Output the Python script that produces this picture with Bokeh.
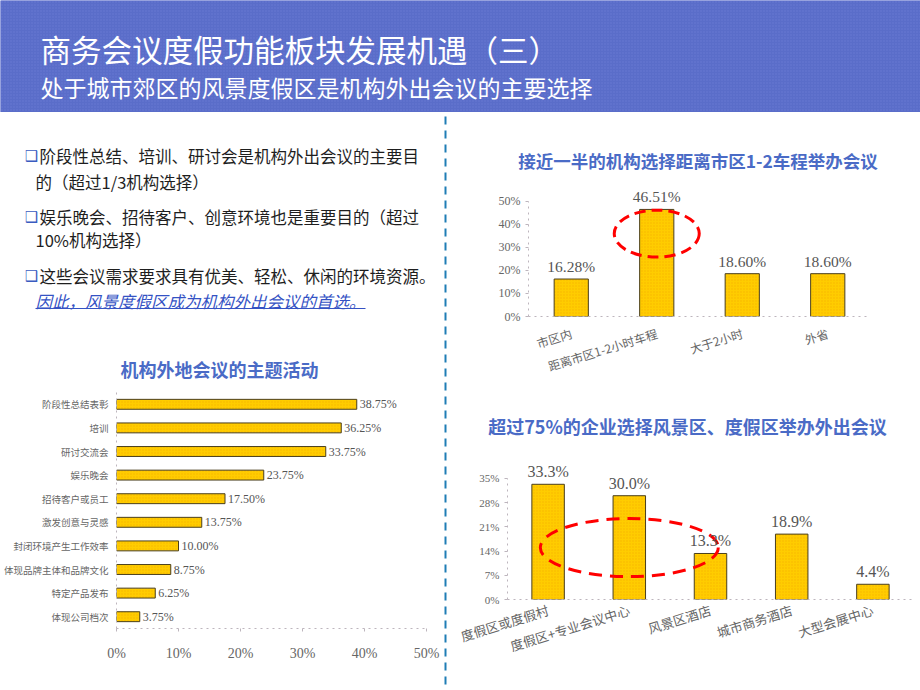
from bokeh.plotting import figure
from bokeh.layouts import column, row
from bokeh.models import ColumnDataSource, Range1d, FactorRange, LabelSet, FixedTicker
from bokeh.core.properties import value
from bokeh.embed import file_html
from bokeh.resources import INLINE

# ---------------- data ----------------
title_main = "商务会议度假功能板块发展机遇（三）"
title_sub = "处于城市郊区的风景度假区是机构外出会议的主要选择"

body_lines = [
    "阶段性总结、培训、研讨会是机构外出会议的主要目",
    "的（超过1/3机构选择）",
    "娱乐晚会、招待客户、创意环境也是重要目的（超过",
    "10%机构选择）",
    "这些会议需求要求具有优美、轻松、休闲的环境资源。",
]
body_conclusion = "因此，风景度假区成为机构外出会议的首选。"

activity_title = "机构外地会议的主题活动"
activity_names = ["阶段性总结表彰", "培训", "研讨交流会", "娱乐晚会", "招待客户或员工",
                  "激发创意与灵感", "封闭环境产生工作效率", "体现品牌主体和品牌文化",
                  "特定产品发布", "体现公司档次"]
activity_pct = [38.75, 36.25, 33.75, 23.75, 17.50, 13.75, 10.00, 8.75, 6.25, 3.75]
activity_ticks = [0, 10, 20, 30, 40, 50]

distance_title = "接近一半的机构选择距离市区1-2车程举办会议"
distance_names = ["市区内", "距离市区1-2小时车程", "大于2小时", "外省"]
distance_pct = [16.28, 46.51, 18.60, 18.60]
distance_ticks = [0, 10, 20, 30, 40, 50]

venue_title = "超过75%的企业选择风景区、度假区举办外出会议"
venue_names = ["度假区或度假村", "度假区+专业会议中心", "风景区酒店", "城市商务酒店", "大型会展中心"]
venue_pct = [33.3, 30.0, 13.3, 18.9, 4.4]
venue_ticks = [0, 7, 14, 21, 28, 35]

# ---------------- style ----------------
CJK = "Noto Sans CJK SC"
NUM = "Liberation Serif"
HDR_BLUE = "#5A6DC9"
TITLE_BLUE = "#4A6BC6"
GOLD = "#FFCC00"
GOLD_DOT = "#F2A600"
BAR_EDGE = "#4A3F1E"
AXIS_GRAY = "#BDB5BD"
LABEL_GRAY = "#666666"
VALUE_GRAY = "#555555"
DIVIDER = "#1F7DB5"

BAR_STYLE = dict(fill_color=GOLD, line_color=BAR_EDGE, line_width=1,
                 hatch_pattern="dot", hatch_color=GOLD_DOT, hatch_scale=3,
                 hatch_alpha=0.6, hatch_weight=1)


def blank(w, h, bg="white"):
    p = figure(width=w, height=h, x_range=Range1d(0, w), y_range=Range1d(h, 0),
               toolbar_location=None, output_backend="svg", min_border=0,
               x_axis_location=None, y_axis_location=None, frame_align=False)
    p.grid.visible = False
    p.outline_line_color = None
    p.background_fill_color = bg
    p.border_fill_color = bg
    return p


def style_chart(p):
    p.grid.visible = False
    p.outline_line_color = None
    for ax in p.axis:
        ax.axis_line_color = AXIS_GRAY
        ax.axis_line_dash = "dotted"
        ax.axis_line_width = 1
        ax.major_tick_line_color = AXIS_GRAY
        ax.minor_tick_line_color = None
        ax.major_label_text_color = LABEL_GRAY


# ---------------- header ----------------
hdr = blank(920, 112, HDR_BLUE)
hdr.quad(left=[0], right=[920], top=[0], bottom=[112], fill_color=HDR_BLUE, line_color=None,
         hatch_pattern="dot", hatch_color="#7484DA", hatch_scale=3, hatch_alpha=0.55, hatch_weight=1)
hdr.text(x=[40], y=[48], text=[title_main], text_font=value(CJK), text_font_size="30.5px",
         text_color="white", text_baseline="middle")
hdr.text(x=[40], y=[86], text=[title_sub], text_font=value(CJK), text_font_size="23px",
         text_color="white", text_baseline="middle")

# ---------------- left text block ----------------
txt = blank(442, 273)
line_y = [43, 69, 104, 127, 163]
line_x = [39, 35, 39, 35, 39]
bullet_rows = [0, 2, 4]
txt.text(x=[31] * len(bullet_rows), y=[line_y[i] for i in bullet_rows], text=["❑"] * len(bullet_rows),
         text_font=value("DejaVu Sans"), text_font_size="15px", text_color="#3A5BC0",
         text_align="center", text_baseline="middle")
txt.text(x=line_x, y=line_y, text=body_lines, text_font=value(CJK), text_font_size="16.5px",
         text_color="#1E1E1E", text_baseline="middle")
txt.text(x=[35], y=[188], text=[body_conclusion], text_font=value(CJK), text_font_size="16.5px",
         text_color="#3452C4", text_font_style="italic", text_baseline="middle")
txt.segment(x0=[35], y0=[196], x1=[35 + 16.5 * len(body_conclusion)], y1=[196],
            line_color="#3452C4", line_width=1)
txt.text(x=[219], y=[256], text=[activity_title], text_font=value(CJK), text_font_size="18px",
         text_color=TITLE_BLUE, text_font_style="bold", text_align="center", text_baseline="middle")

# ---------------- left bar chart ----------------
src_a = ColumnDataSource(dict(name=activity_names, pct=activity_pct,
                              lbl=[f"{v:.2f}%" for v in activity_pct]))
pa = figure(width=442, height=305, y_range=FactorRange(*activity_names[::-1]), x_range=Range1d(0, 50),
            toolbar_location=None, output_backend="svg", frame_align=False,
            min_border_left=115, min_border_right=16, min_border_top=7, min_border_bottom=62)
pa.hbar(y="name", left=0, right="pct", height=0.42, source=src_a, **BAR_STYLE)
pa.add_layout(LabelSet(x="pct", y="name", text="lbl", source=src_a, x_offset=3,
                       text_baseline="middle", text_font=value(NUM), text_font_size="12px",
                       text_color=VALUE_GRAY))
style_chart(pa)
pa.xaxis.ticker = FixedTicker(ticks=activity_ticks, minor_ticks=[])
pa.xaxis.major_label_overrides = {t: f"{t}%" for t in activity_ticks}
pa.xaxis.major_tick_in = 0
pa.xaxis.major_tick_out = 3
pa.xaxis.major_label_standoff = 14
pa.xaxis.major_label_text_font = NUM
pa.xaxis.major_label_text_font_size = "14px"
pa.yaxis.major_tick_line_color = None
pa.yaxis.major_tick_out = 0
pa.yaxis.major_tick_in = 0
pa.yaxis.major_label_standoff = 8
pa.yaxis.major_label_text_font = CJK
pa.yaxis.major_label_text_font_size = "9.5px"

# ---------------- divider ----------------
div = blank(6, 578)
div.segment(x0=[3], y0=[4], x1=[3], y1=[578], line_color=DIVIDER, line_width=2, line_dash="8 6")

# ---------------- right top chart ----------------
rt1 = blank(472, 73)
rt1.text(x=[249.5], y=[48], text=[distance_title], text_font=value(CJK), text_font_size="17.5px",
         text_color=TITLE_BLUE, text_font_style="bold", text_align="center", text_baseline="middle")

src_d = ColumnDataSource(dict(name=distance_names, pct=distance_pct,
                              lbl=[f"{v:.2f}%" for v in distance_pct]))
pdist = figure(width=472, height=200, x_range=FactorRange(*distance_names), y_range=Range1d(0, 55.6),
               toolbar_location=None, output_backend="svg", frame_align=False,
               min_border_left=80, min_border_right=50, min_border_top=3, min_border_bottom=67)
pdist.vbar(x="name", top="pct", width=0.4, source=src_d, **BAR_STYLE)
pdist.add_layout(LabelSet(x="name", y="pct", text="lbl", source=src_d, y_offset=4,
                          text_align="center", text_baseline="bottom", text_font=value(NUM),
                          text_font_size="15.5px", text_color=VALUE_GRAY))
pdist.ellipse(x=[distance_names[1]], y=[36], width=85, height=47, width_units="screen",
              height_units="screen", fill_color=None, line_color="#FF0000", line_width=3,
              line_dash="11 6")
style_chart(pdist)
pdist.yaxis.bounds = (0, 50)
pdist.yaxis.ticker = FixedTicker(ticks=distance_ticks, minor_ticks=[])
pdist.yaxis.major_label_overrides = {t: f"{t}%" for t in distance_ticks}
pdist.yaxis.major_tick_out = 3
pdist.yaxis.major_tick_in = 0
pdist.yaxis.major_label_standoff = 5
pdist.yaxis.major_label_text_font = NUM
pdist.yaxis.major_label_text_font_size = "12px"
pdist.xaxis.major_tick_line_color = None
pdist.xaxis.major_tick_out = 0
pdist.xaxis.major_label_orientation = 0.3
pdist.xaxis.major_label_standoff = 16
pdist.xaxis.major_label_text_font = CJK
pdist.xaxis.major_label_text_font_size = "12px"

# ---------------- right bottom chart ----------------
rt2 = blank(472, 70)
rt2.text(x=[239], y=[40], text=[venue_title], text_font=value(CJK), text_font_size="18px",
         text_color=TITLE_BLUE, text_font_style="bold", text_align="center", text_baseline="middle")

src_v = ColumnDataSource(dict(name=venue_names, pct=venue_pct,
                              lbl=[f"{v:.1f}%" for v in venue_pct]))
pven = figure(width=472, height=235, x_range=FactorRange(*venue_names), y_range=Range1d(0, 39.6),
              toolbar_location=None, output_backend="svg", frame_align=False,
              min_border_left=59, min_border_right=7, min_border_top=7, min_border_bottom=91)
pven.vbar(x="name", top="pct", width=0.4, source=src_v, **BAR_STYLE)
pven.add_layout(LabelSet(x="name", y="pct", text="lbl", source=src_v, y_offset=4,
                         text_align="center", text_baseline="bottom", text_font=value(NUM),
                         text_font_size="16px", text_color=VALUE_GRAY))
pven.ellipse(x=[venue_names[1]], y=[15], width=178, height=58, width_units="screen",
             height_units="screen", fill_color=None, line_color="#FF0000", line_width=3,
             line_dash="13 8")
style_chart(pven)
pven.yaxis.bounds = (0, 35)
pven.yaxis.ticker = FixedTicker(ticks=venue_ticks, minor_ticks=[])
pven.yaxis.major_label_overrides = {t: f"{t}%" for t in venue_ticks}
pven.yaxis.major_tick_out = 3
pven.yaxis.major_tick_in = 0
pven.yaxis.major_label_standoff = 5
pven.yaxis.major_label_text_font = NUM
pven.yaxis.major_label_text_font_size = "11px"
pven.xaxis.major_tick_line_color = None
pven.xaxis.major_tick_out = 0
pven.xaxis.major_label_orientation = 0.3
pven.xaxis.major_label_standoff = 10
pven.xaxis.major_label_text_font = CJK
pven.xaxis.major_label_text_font_size = "13px"

# ---------------- layout ----------------
left_col = column(txt, pa)
right_col = column(rt1, pdist, rt2, pven)
page = column(hdr, row(left_col, div, right_col))

open("out.html", "w").write(file_html(page, INLINE, "chart"))
